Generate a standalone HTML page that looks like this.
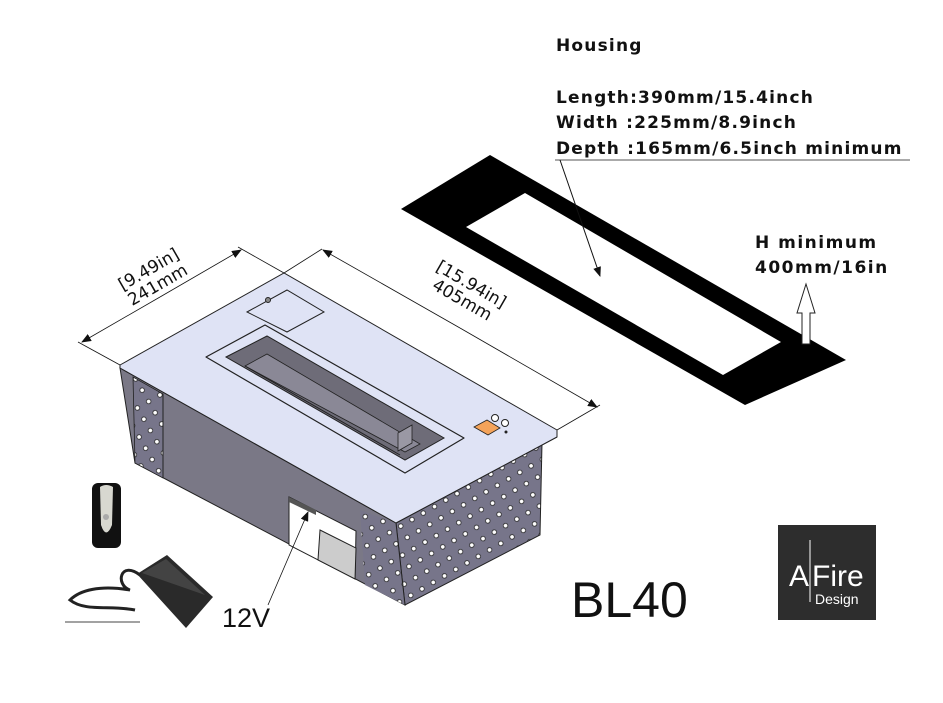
<!DOCTYPE html>
<html><head><meta charset="utf-8"><style>
html,body{margin:0;padding:0;background:#fff;}
svg{display:block;}
.h{font-family:"DejaVu Sans","Liberation Sans",sans-serif;font-weight:bold;font-size:17px;fill:#111;letter-spacing:1.2px;}
.d{font-family:"DejaVu Sans","Liberation Sans",sans-serif;font-size:17px;fill:#111;}
</style></head><body>
<svg width="943" height="703" viewBox="0 0 943 703" xmlns="http://www.w3.org/2000/svg">
<defs>
<pattern id="holes" width="13" height="13" patternUnits="userSpaceOnUse" patternTransform="rotate(-30)">
<rect width="13" height="13" fill="#77758a"/>
<circle cx="6" cy="6" r="2.3" fill="#fff" stroke="#222" stroke-width="0.8"/>
</pattern>
<marker id="ar" markerWidth="10" markerHeight="8" refX="9" refY="4" orient="auto" markerUnits="userSpaceOnUse"><path d="M0,0 L10,4 L0,8 z" fill="#111"/></marker>
</defs>
<rect width="943" height="703" fill="#fff"/>

<polygon points="401,209 490,155 846,360 745,405" fill="#000"/>
<polygon points="466,227 525,193 781,342 723,375" fill="#fff"/>

<text class="h" x="556" y="51">Housing</text>
<text class="h" x="556" y="103">Length:390mm/15.4inch</text>
<text class="h" x="556" y="128">Width :225mm/8.9inch</text>
<text class="h" x="556" y="154">Depth :165mm/6.5inch minimum</text>
<line x1="555" y1="160" x2="910" y2="160" stroke="#555" stroke-width="1"/>
<line x1="560" y1="160" x2="600" y2="276" stroke="#111" stroke-width="1" marker-end="url(#ar)"/>
<text class="h" x="755" y="248" style="letter-spacing:1.5px">H minimum</text>
<text class="h" x="755" y="273" style="letter-spacing:1.5px">400mm/16in</text>
<polygon points="806,284 797,313 802,313 802,344 810,344 810,313 815,313" fill="#fff" stroke="#222" stroke-width="1"/>

<polygon points="120,368 396,523 405,605 135,463" fill="#7a7886" stroke="#222" stroke-width="1"/>
<polygon points="133,377 163,394 163,478 135,463" fill="url(#holes)" stroke="#222" stroke-width="0.8"/>
<line x1="163" y1="394" x2="163" y2="478" stroke="#222"/>
<polygon points="396,523 557,437 542,443 540,535 405,605" fill="url(#holes)" stroke="#222" stroke-width="1"/>
<polygon points="360,510 396,523 405,605 365,585" fill="url(#holes)"/>
<line x1="396" y1="523" x2="405" y2="605" stroke="#222"/>
<polygon points="289,497 356,531 355,579 289,545" fill="#fff" stroke="#222" stroke-width="1"/>
<polygon points="320,530 356,548 355,579 318,560" fill="#ccc" stroke="#222" stroke-width="1"/>
<polygon points="289,497 316,510 316,515 289,502" fill="#555"/>
<polygon points="120,365 284,273 557,430 557,437 396,523 120,368" fill="#dfe3f5" stroke="#222" stroke-width="1"/>
<polygon points="247,312 287,290 324,312 287,332" fill="#dfe3f5" stroke="#222" stroke-width="1"/>
<circle cx="268" cy="300" r="2.5" fill="#888" stroke="#222"/>
<polygon points="206,357 265,325 464,438 405,473" fill="#dfe3f5" stroke="#222" stroke-width="1.2" stroke-linejoin="round"/>
<polygon points="226,357 267,336 444,438 405,460" fill="#6e6c78" stroke="#222" stroke-width="1"/>
<polygon points="245,366 267,354 420,444 405,452" fill="#8a8896" stroke="#222" stroke-width="0.8"/>
<line x1="245" y1="366" x2="400" y2="455" stroke="#222"/>
<polygon points="398,433 412,425 412,443 398,451" fill="#9a98a4" stroke="#222" stroke-width="0.8"/>
<polygon points="474,427 487,420 500,428 488,435" fill="#f4a35a" stroke="#222" stroke-width="0.8"/>
<circle cx="495" cy="418" r="3.5" fill="#fff" stroke="#222"/>
<circle cx="505" cy="423" r="3.5" fill="#fff" stroke="#222"/>
<circle cx="506" cy="432" r="1.5" fill="#222"/>

<line x1="120" y1="365" x2="78" y2="342" stroke="#111" stroke-width="0.8"/>
<line x1="284" y1="273" x2="238" y2="247" stroke="#111" stroke-width="0.8"/>
<line x1="557" y1="430" x2="600" y2="405" stroke="#111" stroke-width="0.8"/>
<line x1="284" y1="273" x2="322" y2="249" stroke="#111" stroke-width="0.8"/>
<line x1="160" y1="297" x2="82" y2="342" stroke="#111" stroke-width="0.8" marker-end="url(#ar)"/>
<line x1="160" y1="297" x2="241" y2="250" stroke="#111" stroke-width="0.8" marker-end="url(#ar)"/>
<line x1="460" y1="328" x2="323" y2="250" stroke="#111" stroke-width="0.8" marker-end="url(#ar)"/>
<line x1="460" y1="328" x2="597" y2="407" stroke="#111" stroke-width="0.8" marker-end="url(#ar)"/>
<g transform="translate(156,282) rotate(-30)"><text class="d" x="0" y="-9" text-anchor="middle">[9.49in]</text><text class="d" x="0" y="9" text-anchor="middle">241mm</text></g>
<g transform="translate(464,297) rotate(30)"><text class="d" x="0" y="-9" text-anchor="middle">[15.94in]</text><text class="d" x="0" y="9" text-anchor="middle">405mm</text></g>

<line x1="268" y1="605" x2="308" y2="512" stroke="#111" stroke-width="0.8" marker-end="url(#ar)"/>
<text x="222" y="627" style="font-family:'Liberation Sans',sans-serif;font-size:27px;fill:#111">12V</text>

<rect x="92" y="483" width="29" height="65" rx="6" fill="#111"/>
<path d="M100,487 Q106,483 113,487 L112,525 Q106,540 101,525 z" fill="#d8d8d0"/>
<circle cx="106" cy="517" r="3" fill="#aaa"/>
<polygon points="137,574 167,555 213,597 186,628" fill="#2a2a2a"/>
<polygon points="142,573 166,559 205,595" fill="#555" opacity="0.6"/>
<path d="M140,575 C120,560 115,585 130,590 C100,585 80,590 70,600 C85,612 110,605 135,610" fill="none" stroke="#222" stroke-width="3"/>
<line x1="65" y1="622" x2="140" y2="622" stroke="#444" stroke-width="1"/>

<text x="571" y="617" style="font-family:'Liberation Sans',sans-serif;font-size:50px;fill:#111">BL40</text>

<rect x="778" y="525" width="98" height="95" fill="#2d2d2d"/>
<line x1="810" y1="540" x2="810" y2="602" stroke="#fff" stroke-width="1"/>
<text x="789" y="586" style="font-family:'Liberation Sans',sans-serif;font-size:30px;fill:#fff">A</text>
<text x="812" y="586" style="font-family:'Liberation Sans',sans-serif;font-size:30px;fill:#fff">Fire</text>
<text x="815" y="604" style="font-family:'Liberation Sans',sans-serif;font-size:14px;fill:#fff">Design</text>
</svg>
</body></html>
